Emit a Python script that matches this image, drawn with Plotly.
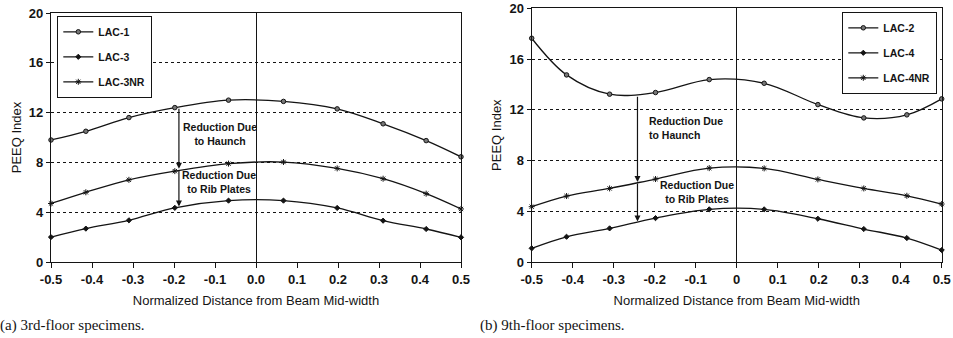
import plotly.graph_objects as go

# ---- data ----
x_pos = [-0.5, -0.415, -0.31, -0.198, -0.067, 0.067, 0.198, 0.31, 0.415, 0.5]

lac1 = [9.8, 10.5, 11.6, 12.4, 13.0, 12.9, 12.3, 11.1, 9.75, 8.45]
lac3 = [2.0, 2.68, 3.35, 4.35, 4.93, 4.93, 4.34, 3.32, 2.65, 1.98]
lac3nr = [4.7, 5.6, 6.6, 7.3, 7.9, 8.03, 7.52, 6.69, 5.49, 4.26]

lac2 = [17.64, 14.75, 13.23, 13.36, 14.38, 14.09, 12.41, 11.36, 11.6, 12.86]
lac4 = [1.08, 1.99, 2.65, 3.46, 4.15, 4.15, 3.41, 2.6, 1.89, 0.94]
lac4nr = [4.36, 5.2, 5.8, 6.54, 7.4, 7.38, 6.51, 5.8, 5.22, 4.57]

x_ticks = [-0.5, -0.4, -0.3, -0.2, -0.1, 0.0, 0.1, 0.2, 0.3, 0.4, 0.5]
x_labels_a = ["-0.5", "-0.4", "-0.3", "-0.2", "-0.1", "0.0", "0.1", "0.2", "0.3", "0.4", "0.5"]
x_labels_b = ["-0.5", "-0.4", "-0.3", "-0.2", "-0.1", "0", "0.1", "0.2", "0.3", "0.4", "0.5"]
y_ticks = [0, 4, 8, 12, 16, 20]

INK = "#141414"
SANS = "Liberation Sans, Arial, sans-serif"
SERIF = "Liberation Serif, Times New Roman, serif"

fig = go.Figure()

def add(xs, ys, name, symbol, xa, ya, leg, group, msize=4, mfill=INK):
    fig.add_trace(go.Scatter(
        x=xs, y=ys, name=name, mode="lines+markers",
        line=dict(color=INK, width=1.3, shape="spline", smoothing=1.0),
        marker=dict(symbol=symbol, size=msize, color=mfill,
                    line=dict(color=INK, width=1)),
        xaxis=xa, yaxis=ya, legend=leg, legendgroup=group,
        cliponaxis=False,
    ))

add(x_pos, lac1, "LAC-1", "circle", "x", "y", "legend", "a1", 4.5, "#777")
add(x_pos, lac3, "LAC-3", "diamond", "x", "y", "legend", "a2", 4)
add(x_pos, lac3nr, "LAC-3NR", "asterisk-open", "x", "y", "legend", "a3", 5)
add(x_pos, lac2, "LAC-2", "circle", "x2", "y2", "legend2", "b1", 4.5, "#777")
add(x_pos, lac4, "LAC-4", "diamond", "x2", "y2", "legend2", "b2", 4)
add(x_pos, lac4nr, "LAC-4NR", "asterisk-open", "x2", "y2", "legend2", "b3", 5)

W, H = 953, 338

tick_font = dict(family=SANS, size=13, color=INK, weight="bold")
title_font = dict(family=SANS, size=13, color=INK)

def xaxis(dom, labels, anchor):
    return dict(domain=dom, range=[-0.5, 0.5], anchor=anchor, automargin=False,
                tickmode="array", tickvals=x_ticks, ticktext=labels,
                ticks="outside", ticklen=5, tickcolor=INK, tickwidth=1,
                showline=True, linecolor=INK, linewidth=1.2, mirror=True,
                showgrid=False, zeroline=True, zerolinecolor=INK, zerolinewidth=1.3,
                tickfont=tick_font,
                title=dict(text="Normalized Distance from Beam Mid-width",
                           font=title_font, standoff=10))

def yaxis(dom, anchor):
    return dict(domain=dom, range=[0, 20], anchor=anchor, automargin=False,
                tickmode="array", tickvals=y_ticks,
                ticks="outside", ticklen=4, tickcolor=INK, tickwidth=1,
                showline=True, linecolor=INK, linewidth=1.2, mirror=True,
                showgrid=True, gridcolor=INK, gridwidth=1, griddash="dot",
                zeroline=False,
                tickfont=tick_font,
                title=dict(text="PEEQ Index", font=title_font, standoff=4))

legend_common = dict(bgcolor="white", bordercolor=INK, borderwidth=1.3,
                     font=dict(family=SANS, size=10.5, color=INK, weight="bold"),
                     traceorder="grouped", tracegroupgap=6, itemwidth=30,
                     yanchor="top")

fig.update_layout(
    width=W, height=H, margin=dict(l=0, r=0, t=0, b=0, autoexpand=False),
    paper_bgcolor="white", plot_bgcolor="white", showlegend=True,
    xaxis=xaxis([51 / W, 461 / W], x_labels_a, "y"),
    yaxis=yaxis([1 - 262 / H, 1 - 13 / H], "x"),
    xaxis2=xaxis([531.7 / W, 941.7 / W], x_labels_b, "y2"),
    yaxis2=yaxis([1 - 262 / H, 1 - 8.3 / H], "x2"),
    legend=dict(x=57 / W, y=1 - 16 / H, xanchor="left", **legend_common),
    legend2=dict(x=937 / W, y=1 - 12 / H, xanchor="right", **legend_common),
)

arrow = dict(showarrow=True, arrowhead=2, arrowsize=1, arrowwidth=1.2,
             arrowcolor=INK, text="", standoff=0, startstandoff=0)
notes = [
    dict(x=-0.188, y=7.5, ax=-0.188, ay=12.42, xref="x", yref="y", axref="x", ayref="y"),
    dict(x=-0.188, y=4.45, ax=-0.188, ay=7.5, xref="x", yref="y", axref="x", ayref="y"),
    dict(x=-0.242, y=6.3, ax=-0.242, ay=13.15, xref="x2", yref="y2", axref="x2", ayref="y2"),
    dict(x=-0.242, y=3.2, ax=-0.242, ay=6.3, xref="x2", yref="y2", axref="x2", ayref="y2"),
]
for n in notes:
    fig.add_annotation(**n, **arrow)

lab_font = dict(family=SANS, size=10.5, color=INK, weight="bold")
fig.add_annotation(x=-0.088, y=10.25, xref="x", yref="y", showarrow=False,
                   text="Reduction Due<br>to Haunch", font=lab_font, align="center")
fig.add_annotation(x=-0.09, y=6.4, xref="x", yref="y", showarrow=False,
                   text="Reduction Due<br>to Rib Plates", font=lab_font, align="center")
fig.add_annotation(x=-0.22, y=10.6, xref="x2", yref="y2", showarrow=False, xanchor="left",
                   text="Reduction Due<br>to Haunch", font=lab_font, align="left")
fig.add_annotation(x=-0.097, y=5.54, xref="x2", yref="y2", showarrow=False,
                   text="Reduction Due<br>to Rib Plates", font=lab_font, align="center")

cap_font = dict(family=SERIF, size=15, color=INK)
fig.add_annotation(x=0, y=1 - 325 / H, xref="paper", yref="paper", showarrow=False, xshift=-2,
                   xanchor="left", yanchor="middle", text="(a) 3rd-floor specimens.", font=cap_font)
fig.add_annotation(x=480 / W, y=1 - 325 / H, xref="paper", yref="paper", showarrow=False, xshift=-2,
                   xanchor="left", yanchor="middle", text="(b) 9th-floor specimens.", font=cap_font)

fig.write_html("out.html", config={"displayModeBar": False},
               post_script="document.body.style.margin='0';")
